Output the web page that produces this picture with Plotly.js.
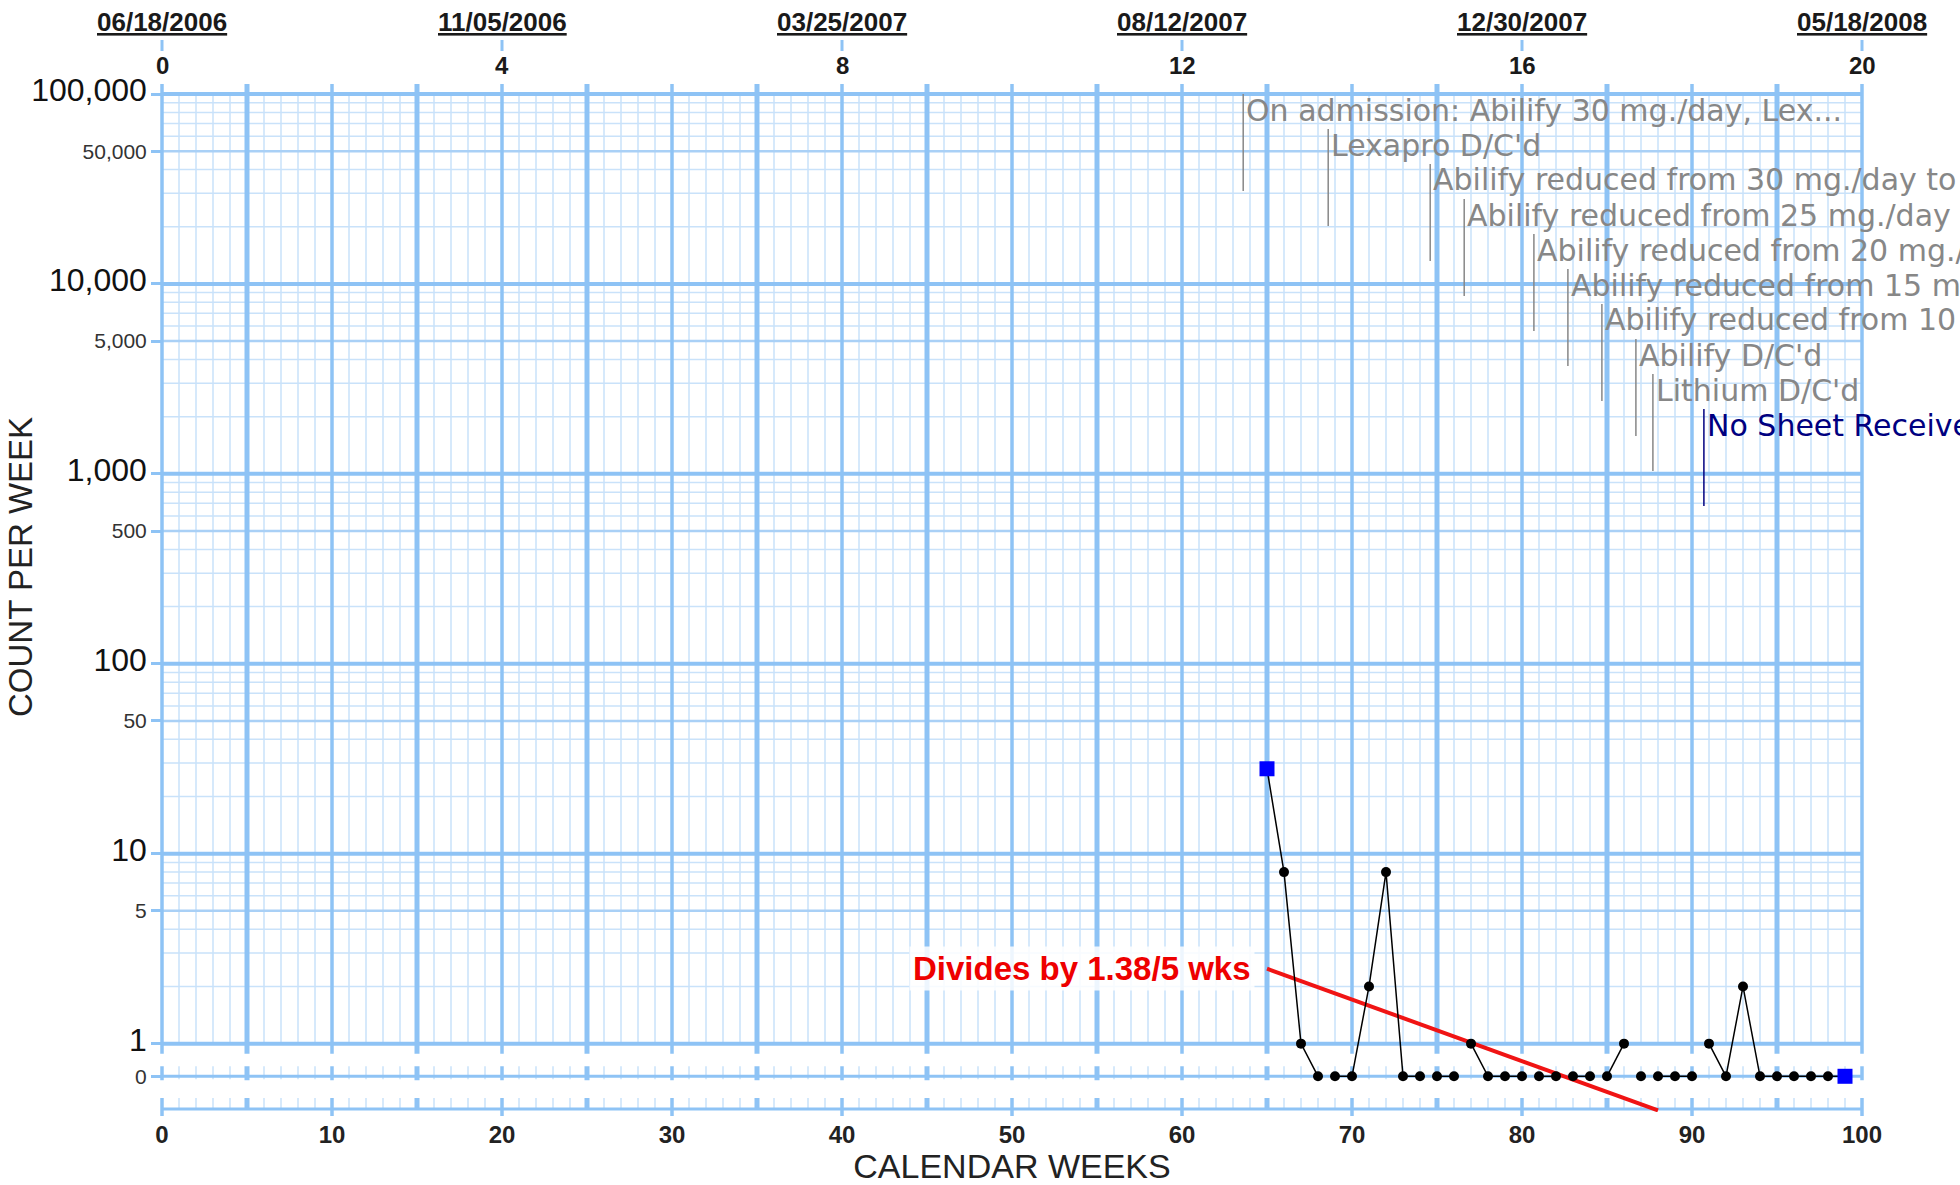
<!DOCTYPE html>
<html>
<head>
<meta charset="utf-8">
<script src="https://cdn.plot.ly/plotly-3.0.1.min.js"></script>
<style>
  html, body { margin: 0; padding: 0; background: #ffffff; }
  #chart { width: 1960px; height: 1185px; }
</style>
</head>
<body>
<div id="chart"></div>
<script>
// ---------------- DATA ----------------
const WEEKS = [65, 66, 67, 68, 69, 70, 71, 72, 73, 74, 75, 76, 77, 78, 79, 80, 81, 82,
               83, 84, 85, 86, 87, 88, 89, 90, 91, 92, 93, 94, 95, 96, 97, 98, 99];
const COUNTS = [28, 8, 1, 0, 0, 0, 2, 8, 0, 0, 0, 0, 1, 0, 0, 0, 0, 0,
                0, 0, 0, 1, 0, 0, 0, 0, 1, 0, 2, 0, 0, 0, 0, 0, 0];

const PHASE_WEEKS = [63.6, 68.6, 74.6, 76.6, 80.7, 82.7, 84.7, 86.7, 87.7, 90.7];
const PHASE_LABELS = [
  "On admission: Abilify 30 mg./day, Lex...",
  "Lexapro D/C'd",
  "Abilify reduced from 30 mg./day to 25 mg./day",
  "Abilify reduced from 25 mg./day to 20 mg./day",
  "Abilify reduced from 20 mg./day to 15 mg./day",
  "Abilify reduced from 15 mg./day to 10 mg./day",
  "Abilify reduced from 10 mg./day to 5 mg./day",
  "Abilify D/C'd",
  "Lithium D/C'd",
  "No Sheet Received"
];
const PHASE_KINDS = ['change', 'change', 'change', 'change', 'change',
                     'change', 'change', 'change', 'change', 'nosheet'];

const CEL_WEEKS = [65, 88];
const CEL_VALUES = [2.48, 0.445];
const CEL_LABEL = 'Divides by 1.38/5 wks';

const BOTTOM_TICKS = [0, 10, 20, 30, 40, 50, 60, 70, 80, 90, 100];
const TOP_TICKS = [0, 4, 8, 12, 16, 20];          // top scale (5-week units)
const TOP_DATES = ['06/18/2006', '11/05/2006', '03/25/2007', '08/12/2007', '12/30/2007', '05/18/2008'];
const Y_TICK_VALUES = [100000, 50000, 10000, 5000, 1000, 500, 100, 50, 10, 5, 1];
const Y_TICK_LABELS = ['100,000', '50,000', '10,000', '5,000', '1,000', '500', '100', '50', '10', '5', '1'];
const ZERO_LABEL = '0';

// ---------------- STYLE / GEOMETRY ----------------
const WEEKS_PER_TOP_UNIT = 5;
const ZERO_LOG = -0.172;              // where a count of 0 is drawn (below 1)
const ZERO_VALUE = Math.pow(10, ZERO_LOG);
const BAND_BOTTOM_LOG = -0.344;       // bottom rule of the zero band
const Y0 = -0.36, Y1 = 5;             // log10 range of the y axis
const M = { l: 162, r: 98, t: 94, b: 73 };
const W = 1960, H = 1185;
const PLOT_H = H - M.t - M.b;
const PLOT_BOTTOM = H - M.b;

const C_MAJOR = '#8ec3f5';
const C_MID = '#a9d0f6';
const C_MINOR = '#c9e2fa';
const C_PHASE = '#878787';
const C_NOSHEET = '#000080';
const axisFont = 'Liberation Sans, Arial';

const fx = w => w / 100;
const fy = l => (l - Y0) / (Y1 - Y0);
const dpx = p => p / PLOT_H;
const pyPx = px => (PLOT_BOTTOM - px) / PLOT_H;
const seg = (x0, y0, x1, y1) => `M${x0},${y0}L${x1},${y1}`;

// ---------------- GRID (decoration) ----------------
let pMinorV = '', pMinorH = '', pMidH = '', pDecH = '', pTenV = '', pFiveV = '', pRules = '', pDash = '';
const ZL = fy(ZERO_LOG), BL = fy(BAND_BOTTOM_LOG);
for (let w = 0; w <= 100; w++) {
  const x = fx(w);
  if (w % 5 !== 0) {
    pMinorV += seg(x, fy(0), x, fy(5));
    pMinorV += seg(x, ZL + dpx(10), x, ZL - dpx(3));
    pMinorV += seg(x, BL + dpx(11), x, BL);
  } else if (w % 10 === 0) {
    pTenV += seg(x, fy(0) - dpx(10), x, fy(5) + dpx(10)) +
             seg(x, ZL + dpx(10), x, ZL - dpx(4)) +
             seg(x, BL + dpx(11), x, BL - dpx(7));
  } else {
    pFiveV += seg(x, fy(0) - dpx(10), x, fy(5) + dpx(10)) +
              seg(x, ZL + dpx(10), x, ZL - dpx(4)) +
              seg(x, BL + dpx(11), x, BL);
  }
}
for (let d = 0; d <= 5; d++) {
  pDecH += seg(0, fy(d), 1, fy(d));
  if (d < 5) {
    [2, 3, 4, 6, 7, 8, 9].forEach(m => { const l = d + Math.log10(m); pMinorH += seg(0, fy(l), 1, fy(l)); });
    const l5 = d + Math.log10(5);
    pMidH += seg(0, fy(l5), 1, fy(l5));
  }
}
pRules += seg(0, ZL, 1, ZL) + seg(0, BL, 1, BL);
TOP_TICKS.forEach(t => { const x = fx(t * WEEKS_PER_TOP_UNIT); pDash += seg(x, pyPx(40), x, pyPx(51)); });

const P = (path, color, width) => ({ type: 'path', xref: 'paper', yref: 'paper', layer: 'below', path, line: { color, width } });
const shapes = [
  P(pMinorV, C_MINOR, 1.5),
  P(pMinorH, C_MINOR, 1.5),
  P(pMidH, C_MID, 2.5),
  P(pTenV, C_MAJOR, 3.5),
  P(pFiveV, C_MAJOR, 5),
  P(pDecH, C_MAJOR, 4),
  P(pRules, C_MAJOR, 3),
  P(pDash, C_MAJOR, 3)
];

const annotations = [];

// ---------------- TOP SCALE (dates + 5-week units) ----------------
TOP_TICKS.forEach((t, i) => {
  const xw = t * WEEKS_PER_TOP_UNIT;
  annotations.push({ xref: 'x', yref: 'paper', x: xw, y: pyPx(65), xanchor: 'center', yanchor: 'middle',
                     showarrow: false, text: String(t),
                     font: { family: axisFont, size: 24, color: '#1a1a1a', weight: 'bold' } });
  annotations.push({ xref: 'x', yref: 'paper', x: xw, y: pyPx(22), xanchor: 'center', yanchor: 'middle',
                     showarrow: false, text: '<u>' + TOP_DATES[i] + '</u>',
                     font: { family: axisFont, size: 26, color: '#1a1a1a', weight: 'bold' } });
});

// ---------------- PHASE LINES ----------------
PHASE_WEEKS.forEach((w, i) => {
  const top = M.t + 35 * i;
  const color = PHASE_KINDS[i] === 'nosheet' ? C_NOSHEET : C_PHASE;
  shapes.push({ type: 'line', xref: 'x', yref: 'paper', x0: w, x1: w,
                y0: pyPx(top + 97), y1: pyPx(top), line: { color, width: 1.5 } });
  annotations.push({ xref: 'x', yref: 'paper', x: w, y: pyPx(top + 16),
                     xanchor: 'left', yanchor: 'middle', xshift: 1, showarrow: false,
                     text: PHASE_LABELS[i],
                     font: { family: 'DejaVu Sans', size: 30, color } });
});

// celeration label
annotations.push({ xref: 'x', yref: 'y', x: CEL_WEEKS[0], y: Math.log10(CEL_VALUES[0]),
                   xanchor: 'right', yanchor: 'middle', xshift: -12, showarrow: false,
                   text: CEL_LABEL, bgcolor: 'rgba(255,255,255,0.85)', borderpad: 3,
                   font: { family: axisFont, size: 33, color: '#ee0000', weight: 'bold' } });

// y axis title
annotations.push({ xref: 'paper', yref: 'paper', x: (20 - M.l) / (W - M.l - M.r), y: pyPx(567),
                   xanchor: 'center', yanchor: 'middle', textangle: -90, showarrow: false,
                   text: 'COUNT PER WEEK',
                   font: { family: axisFont, size: 33, color: '#222' } });

// ---------------- TRACES ----------------
const xs = [], ys = [], sym = [], col = [], sz = [];
WEEKS.forEach((w, i) => {
  if (i > 0 && PHASE_WEEKS.some(p => p > WEEKS[i - 1] && p < w)) {
    xs.push(null); ys.push(null); sym.push('circle'); col.push('#000'); sz.push(0);
  }
  xs.push(w);
  ys.push(COUNTS[i] > 0 ? COUNTS[i] : ZERO_VALUE);
  const end = (i === 0 || i === WEEKS.length - 1);
  sym.push(end ? 'square' : 'circle');
  col.push(end ? '#0000ff' : '#000000');
  sz.push(end ? 15 : 10);
});

const traces = [
  { x: CEL_WEEKS, y: CEL_VALUES, mode: 'lines', line: { color: '#f01414', width: 4 },
    hoverinfo: 'skip', cliponaxis: false, showlegend: false },
  { x: xs, y: ys, mode: 'lines+markers', connectgaps: false,
    line: { color: '#000', width: 1.5 },
    marker: { symbol: sym, color: col, size: sz, opacity: 1, line: { width: 0 } },
    cliponaxis: false, showlegend: false }
];

const yTickText = Y_TICK_LABELS.map((t, i) =>
  Number.isInteger(Math.log10(Y_TICK_VALUES[i]))
    ? '<span style="font-size:32px;color:#111">' + t + '</span>' : t);

const layout = {
  width: W, height: H, margin: M,
  paper_bgcolor: '#ffffff', plot_bgcolor: 'rgba(0,0,0,0)',
  showlegend: false,
  xaxis: { range: [0, 100], tickvals: BOTTOM_TICKS, ticks: '', ticklabelstandoff: 6,
           showgrid: false, zeroline: false, showline: false,
           tickfont: { family: axisFont, size: 24, color: '#222', weight: 'bold' },
           title: { text: 'CALENDAR WEEKS', standoff: 8, font: { family: axisFont, size: 34, color: '#222' } } },
  yaxis: { type: 'log', range: [Y0, Y1],
           tickvals: Y_TICK_VALUES.concat([ZERO_VALUE]), ticktext: yTickText.concat([ZERO_LABEL]),
           ticks: 'outside', ticklen: 10, tickwidth: 3, tickcolor: C_MAJOR,
           showgrid: false, zeroline: false, showline: false,
           tickfont: { family: axisFont, size: 21, color: '#333' } },
  shapes, annotations
};

Plotly.newPlot('chart', traces, layout, { displayModeBar: false, staticPlot: true });
</script>
</body>
</html>
